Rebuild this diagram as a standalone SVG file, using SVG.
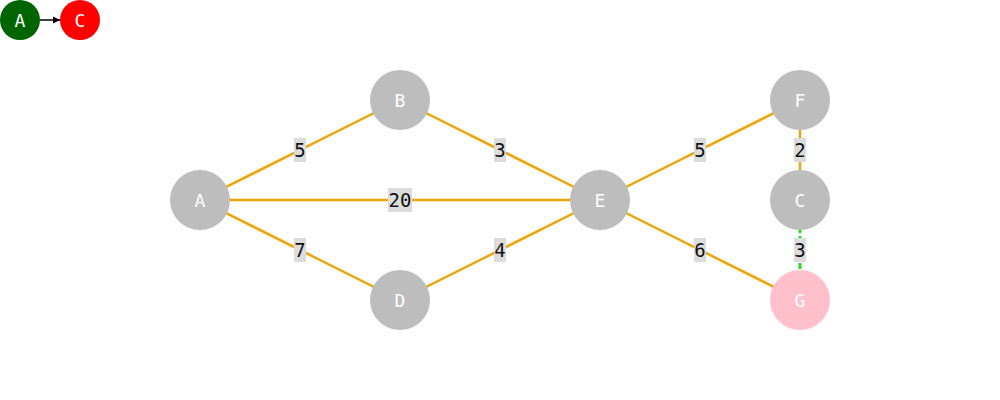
<svg xmlns="http://www.w3.org/2000/svg" width="1000" height="400" viewBox="0 0 1000 400">
  <style>
    .edge { stroke: #f0a30a; stroke-width: 2.5; fill: none; }
    .path { stroke: #22dd22; stroke-width: 3; stroke-dasharray: 6 3; fill: none; }
    .lbg { fill: #dcdcdc; }
    .lbl { font-family: "DejaVu Sans Mono", monospace; font-size: 19px; fill: #111; text-anchor: middle; dominant-baseline: central; }
    .node { fill: #bdbdbd; }
    .ntxt { font-family: "DejaVu Sans Mono", monospace; font-size: 18px; fill: #fff; text-anchor: middle; dominant-baseline: central; }
  </style>
  <defs>
    <marker id="arrow" viewBox="0 0 10 10" refX="10" refY="5" markerWidth="5" markerHeight="5" orient="auto">
      <path d="M0,0 L10,5 L0,10 z" fill="#000"/>
    </marker>
  </defs>

  <!-- legend: start and goal -->
  <g id="legend">
    <line x1="40" y1="20" x2="60" y2="20" stroke="#000" stroke-width="1.5" marker-end="url(#arrow)"/>
    <circle cx="20" cy="20" r="20" fill="#006400"/>
    <text class="ntxt" x="20" y="20">A</text>
    <circle cx="80" cy="20" r="20" fill="#ff0000"/>
    <text class="ntxt" x="80" y="20">C</text>
  </g>

  <g id="edges">
    <line class="edge" x1="200" y1="200" x2="400" y2="100"/>
    <line class="edge" x1="200" y1="200" x2="600" y2="200"/>
    <line class="edge" x1="200" y1="200" x2="400" y2="300"/>
    <line class="edge" x1="400" y1="100" x2="600" y2="200"/>
    <line class="edge" x1="400" y1="300" x2="600" y2="200"/>
    <line class="edge" x1="600" y1="200" x2="800" y2="100"/>
    <line class="edge" x1="600" y1="200" x2="800" y2="300"/>
    <line class="edge" x1="800" y1="100" x2="800" y2="200"/>
    <line class="path" x1="800" y1="200" x2="800" y2="300"/>

    <rect class="lbg" x="294" y="138" width="12" height="24"/><text class="lbl" x="300" y="150">5</text>
    <rect class="lbg" x="494" y="138" width="12" height="24"/><text class="lbl" x="500" y="150">3</text>
    <rect class="lbg" x="388" y="188" width="24" height="24"/><text class="lbl" x="400" y="200">20</text>
    <rect class="lbg" x="294" y="238" width="12" height="24"/><text class="lbl" x="300" y="250">7</text>
    <rect class="lbg" x="494" y="238" width="12" height="24"/><text class="lbl" x="500" y="250">4</text>
    <rect class="lbg" x="694" y="138" width="12" height="24"/><text class="lbl" x="700" y="150">5</text>
    <rect class="lbg" x="694" y="238" width="12" height="24"/><text class="lbl" x="700" y="250">6</text>
    <rect class="lbg" x="794" y="138" width="12" height="24"/><text class="lbl" x="800" y="150">2</text>
    <rect class="lbg" x="794" y="238" width="12" height="24"/><text class="lbl" x="800" y="250">3</text>
  </g>

  <g id="node-A"><circle class="node" cx="200" cy="200" r="30"/><text class="ntxt" x="200" y="200">A</text></g>
  <g id="node-B"><circle class="node" cx="400" cy="100" r="30"/><text class="ntxt" x="400" y="100">B</text></g>
  <g id="node-D"><circle class="node" cx="400" cy="300" r="30"/><text class="ntxt" x="400" y="300">D</text></g>
  <g id="node-E"><circle class="node" cx="600" cy="200" r="30"/><text class="ntxt" x="600" y="200">E</text></g>
  <g id="node-F"><circle class="node" cx="800" cy="100" r="30"/><text class="ntxt" x="800" y="100">F</text></g>
  <g id="node-C"><circle class="node" cx="800" cy="200" r="30"/><text class="ntxt" x="800" y="200">C</text></g>
  <g id="node-G"><circle cx="800" cy="300" r="30" fill="#ffc0cb"/><text class="ntxt" x="800" y="300">G</text></g>
</svg>
